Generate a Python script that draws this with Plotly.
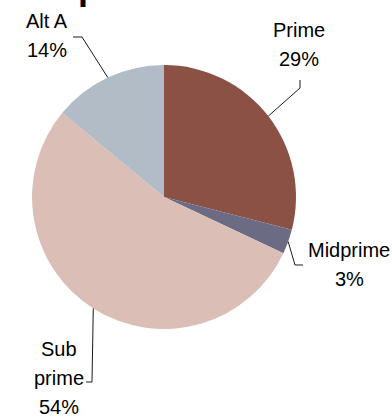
import math
import plotly.graph_objects as go

# Mortgage segments and their share of the pool (%)
segments = ["Prime", "Midprime", "Sub prime", "Alt A"]
shares = [29, 3, 54, 14]
colors = ["#8B5145", "#6B6B83", "#DBBEB6", "#B1BCC6"]

# Label lines for each segment name
label_lines = [["Prime"], ["Midprime"], ["Sub", "prime"], ["Alt A"]]

W, H = 392, 418
CX, CY, R = 164, 197, 132  # pie centre and radius in pixels
FONT = "Liberation Sans, Arial, sans-serif"
LINE_H = 29


def px(x):
    return x / W


def py(y):
    return 1 - y / H


fig = go.Figure(
    go.Pie(
        labels=segments,
        values=shares,
        marker=dict(colors=colors, line=dict(width=0)),
        sort=False,
        direction="clockwise",
        rotation=0,
        textinfo="none",
        hoverinfo="label+percent",
        domain=dict(x=[px(CX - R), px(CX + R)], y=[py(CY + R), py(CY - R)]),
        showlegend=False,
    )
)

# Label block positions: centre x, baseline of first line
label_pos = [(299, 37), (349, 257), (59, 356), (47, 28)]
# Leader line elbows: (elbow point, end point next to the label)
leader_pts = [
    ((300, 88), (300, 80)),
    ((295, 265), (303, 265)),
    ((92, 382), (86, 382)),
    ((82, 37), (73, 37)),
]

total = sum(shares)
start = 0.0
annotations = []
shapes = []
for i, (name_lines, val) in enumerate(zip(label_lines, shares)):
    frac = val / total
    mid = (start + frac / 2) * 2 * math.pi
    start += frac
    ex = CX + R * math.sin(mid)
    ey = CY - R * math.cos(mid)
    (bx, by), (tx, ty) = leader_pts[i]
    shapes.append(
        dict(
            type="path",
            xref="paper",
            yref="paper",
            path=f"M {px(ex)},{py(ey)} L {px(bx)},{py(by)} L {px(tx)},{py(ty)}",
            line=dict(color="#1a1a1a", width=1),
        )
    )
    lx, ly = label_pos[i]
    texts = list(name_lines) + [f"{round(frac * 100)}%"]
    for k, t in enumerate(texts):
        base = ly + k * LINE_H
        annotations.append(
            dict(
                text=t,
                x=px(lx),
                y=py(base - 7),
                xref="paper",
                yref="paper",
                xanchor="center",
                yanchor="middle",
                showarrow=False,
                borderpad=0,
                font=dict(family=FONT, size=20, color="#000000"),
            )
        )

# Chart heading sitting above the visible area
annotations.append(
    dict(
        text="<b>Composition</b>",
        x=px(-3.5),
        y=py(8),
        xref="paper",
        yref="paper",
        xanchor="left",
        yanchor="bottom",
        showarrow=False,
        borderpad=0,
        font=dict(family=FONT, size=36, color="#000000"),
    )
)

fig.update_layout(
    width=W,
    height=H,
    margin=dict(l=0, r=0, t=0, b=0),
    paper_bgcolor="white",
    plot_bgcolor="white",
    annotations=annotations,
    shapes=shapes,
)

fig.write_html("out.html", config={"displayModeBar": False})
